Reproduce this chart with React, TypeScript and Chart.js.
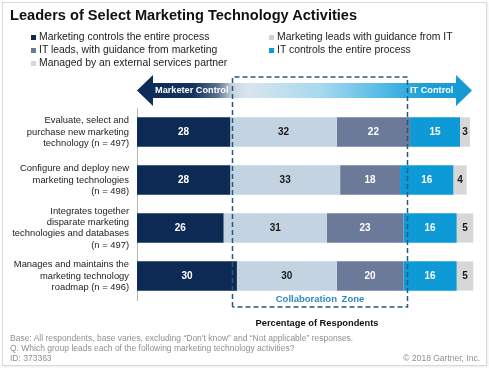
import React, { useEffect, useRef } from "react";
import { Chart, registerables } from "chart.js";

Chart.register(...registerables);

const FONT = "'Liberation Sans', Arial, sans-serif";

const categories: string[][] = [
  ["Evaluate, select and", "purchase new marketing", "technology (n = 497)"],
  ["Configure and deploy new", "marketing technologies", "(n = 498)"],
  ["Integrates together", "disparate marketing", "technologies and databases", "(n = 497)"],
  ["Manages and maintains the", "marketing technology", "roadmap (n = 496)"],
];

const seriesNames = [
  "Marketing controls the entire process",
  "Marketing leads with guidance from IT",
  "IT leads, with guidance from marketing",
  "IT controls the entire process",
  "Managed by an external services partner",
];

const marketingControls = [28, 28, 26, 30];
const marketingLeads = [32, 33, 31, 30];
const itLeads = [22, 18, 23, 20];
const itControls = [15, 16, 16, 16];
const externalPartner = [3, 4, 5, 5];

const seriesValues = [marketingControls, marketingLeads, itLeads, itControls, externalPartner];

const colors = ["#0c2a53", "#c3d3e2", "#6b7a99", "#0e9ad6", "#d7d7d7"];
const labelColors = ["#ffffff", "#1a1a1a", "#ffffff", "#ffffff", "#1a1a1a"];

const zoneStart = 28.5;
const zoneEnd = 81;

const decorPlugin = {
  id: "decor",
  afterDraw(chart: any) {
    const { ctx, chartArea, scales } = chart;
    const x = scales.x;
    // data labels
    ctx.save();
    ctx.font = `bold 10px ${FONT}`;
    ctx.textAlign = "center";
    ctx.textBaseline = "middle";
    chart.data.datasets.forEach((ds: any, i: number) => {
      const meta = chart.getDatasetMeta(i);
      meta.data.forEach((el: any, j: number) => {
        ctx.fillStyle = labelColors[i];
        ctx.fillText(String(ds.data[j]), (el.x + el.base) / 2, el.y + 0.5);
      });
    });
    ctx.restore();

    // arrow
    const L = chartArea.left;
    const R = chartArea.right + 2;
    const cy = 90.5;
    const head = 16;
    ctx.save();
    const g = ctx.createLinearGradient(L, 0, R, 0);
    g.addColorStop(0, "#0b2a55");
    g.addColorStop(0.17, "#14345f");
    g.addColorStop(0.24, "#5a7391");
    g.addColorStop(0.285, "#c9d4df");
    g.addColorStop(0.33, "#d9e5ee");
    g.addColorStop(0.55, "#a6d9f0");
    g.addColorStop(0.75, "#4cb7e4");
    g.addColorStop(0.85, "#1ea1d9");
    g.addColorStop(1, "#1597d2");
    ctx.fillStyle = g;
    ctx.beginPath();
    ctx.moveTo(L, cy);
    ctx.lineTo(L + head, cy - 15.5);
    ctx.lineTo(L + head, cy - 7.5);
    ctx.lineTo(R - head, cy - 7.5);
    ctx.lineTo(R - head, cy - 15.5);
    ctx.lineTo(R, cy);
    ctx.lineTo(R - head, cy + 15.5);
    ctx.lineTo(R - head, cy + 7.5);
    ctx.lineTo(L + head, cy + 7.5);
    ctx.lineTo(L + head, cy + 15.5);
    ctx.closePath();
    ctx.fill();
    ctx.restore();

    // collaboration zone box
    const x1 = Math.round(x.getPixelForValue(zoneStart)) + 0.5;
    const x2 = Math.round(x.getPixelForValue(zoneEnd)) + 0.5;
    const top = chartArea.top - 31;
    const bottom = chartArea.bottom + 7;
    ctx.save();
    ctx.strokeStyle = "#235b7d";
    ctx.lineWidth = 1.5;
    ctx.setLineDash([5, 3]);
    ctx.beginPath();
    ctx.moveTo(x1, bottom);
    ctx.lineTo(x1, top);
    ctx.lineTo(x2, top);
    ctx.lineTo(x2, bottom);
    ctx.lineTo(x1, bottom);
    ctx.stroke();
    ctx.restore();
  },
};

const abs = (left: number, top: number, extra: any = {}) => ({
  position: "absolute" as const,
  left,
  top,
  whiteSpace: "nowrap" as const,
  fontFamily: FONT,
  ...extra,
});

const legendPos = [
  [31, 37],
  [269, 37],
  [31, 50],
  [269, 50],
  [31, 63],
];

export default function App() {
  const ref = useRef<HTMLCanvasElement>(null);

  useEffect(() => {
    const canvas = ref.current!;
    const chart = new Chart(canvas, {
      type: "bar",
      data: {
        labels: categories as any,
        datasets: seriesValues.map((d, i) => ({
          label: seriesNames[i],
          data: d,
          backgroundColor: colors[i],
          borderWidth: 0,
          barPercentage: 0.61,
          categoryPercentage: 1,
          clip: false as any,
        })),
      },
      options: {
        indexAxis: "y",
        responsive: false,
        animation: false,
        devicePixelRatio: 1,
        layout: { padding: { top: 108, bottom: 68, right: 19, left: 0 } },
        plugins: {
          legend: { display: false },
          tooltip: { enabled: false },
          title: { display: false },
        },
        scales: {
          x: { stacked: true, min: 0, max: 100, display: false },
          y: {
            stacked: true,
            grid: { display: false, drawTicks: false },
            border: { display: true, color: "#b5b5b5", width: 1 },
            ticks: {
              autoSkip: false,
              padding: 8,
              color: "#222",
              font: { family: FONT, size: 9.4, lineHeight: 1.2 },
            },
            afterFit: (s: any) => {
              s.width = 137;
            },
          },
        },
      } as any,
      plugins: [decorPlugin],
    });
    return () => chart.destroy();
  }, []);

  return (
    <div
      style={{
        position: "fixed",
        left: 0,
        top: 0,
        width: 489,
        height: 368,
        background: "#fff",
        overflow: "hidden",
      }}
    >
      <div
        style={{
          position: "absolute",
          left: 2,
          top: 2,
          width: 483,
          height: 362,
          border: "1px solid #d9d9d9",
          boxShadow: "1px 1px 2px rgba(0,0,0,0.08)",
        }}
      />
      <canvas ref={ref} width={489} height={368} style={{ position: "absolute", left: 0, top: 0 }} />
      <div style={abs(10, 6, { fontSize: 14.6, fontWeight: "bold", color: "#111", lineHeight: "18px" })}>
        Leaders of Select Marketing Technology Activities
      </div>
      {seriesNames.map((n, i) => (
        <div key={n} style={abs(legendPos[i][0], legendPos[i][1] - 7, { height: 14, display: "flex", alignItems: "center", fontSize: 10.4, color: "#222" })}>
          <span style={{ display: "inline-block", width: 5, height: 5, background: colors[i], marginRight: 3 }} />
          <span style={{ lineHeight: "14px" }}>{n}</span>
        </div>
      ))}
      <div style={abs(155, 84, { fontSize: 9.2, fontWeight: "bold", color: "#fff", lineHeight: "13px" })}>Marketer Control</div>
      <div style={abs(410, 84, { fontSize: 9.2, fontWeight: "bold", color: "#fff", lineHeight: "13px" })}>IT Control</div>
      <div style={abs(232, 292, { width: 176, textAlign: "center", fontSize: 9.5, fontWeight: "bold", color: "#2b8cbf", lineHeight: "14px", wordSpacing: 2 })}>
        Collaboration Zone
      </div>
      <div style={abs(217, 316, { width: 200, textAlign: "center", fontSize: 9.3, fontWeight: "bold", color: "#111", lineHeight: "14px" })}>
        Percentage of Respondents
      </div>
      <div style={abs(10, 333, { fontSize: 8.5, color: "#8f8f8f", lineHeight: "10px" })}>
        <div>Base:  All respondents, base varies, excluding “Don't know” and “Not applicable” responses.</div>
        <div>Q. Which group leads each of the following marketing technology activities?</div>
        <div>ID:  373363</div>
      </div>
      <div style={abs(380, 353, { width: 100, textAlign: "right", fontSize: 8.5, color: "#8f8f8f", lineHeight: "10px" })}>
        © 2018 Gartner, Inc.
      </div>
    </div>
  );
}
